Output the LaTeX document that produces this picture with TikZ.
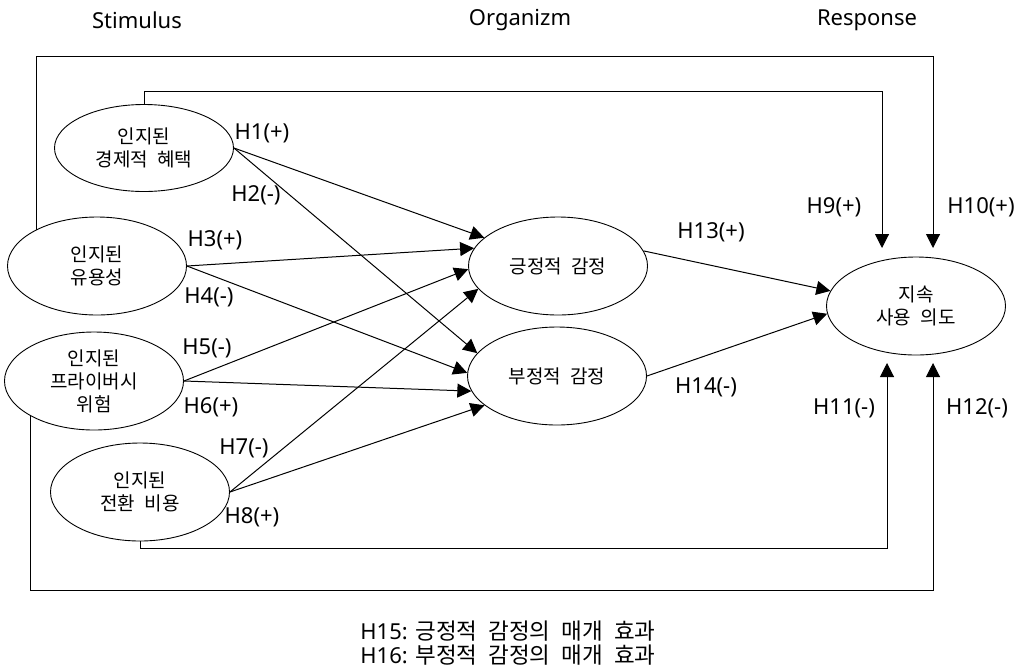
\documentclass[tikz,border=0pt]{standalone}
\usepackage{fontspec}
\setmainfont{Noto Sans}
\newfontfamily\kr[WordSpace=2.2]{Noto Sans CJK KR}
\usetikzlibrary{shapes.geometric,arrows.meta}

\tikzstyle{factor}=[ellipse,draw=black,line width=0.9pt,fill=white,minimum width=179pt,minimum height=98pt,inner sep=0pt,align=center,font=\kr\fontsize{19}{23}\selectfont]
\tikzstyle{hyp}=[font=\fontsize{22}{26}\selectfont]
\tikzstyle{link}=[line width=1pt,-{Triangle[length=14pt,width=14pt]}]

\begin{document}
\begin{tikzpicture}[x=1pt,y=-1pt]
\useasboundingbox (0,0) rectangle (1024,670);
\node(stim)[hyp] at (137,20){Stimulus};
\node(org)[hyp] at (520,20){Organizm};
\node(resp)[hyp] at (867,20){Response};
\node(benefit)[factor,minimum height=87pt] at (144,148){인지된\\경제적 혜택};
\node(useful)[factor] at (97,266){인지된\\유용성};
\node(privacy)[factor] at (94,381){인지된\\프라이버시\\위험};
\node(switch)[factor] at (140,492){인지된\\전환 비용};
\node(positive)[factor] at (558,266){긍정적 감정};
\node(negative)[factor] at (557,376){부정적 감정};
\node(intent)[factor] at (916,306){지속\\사용 의도};
\coordinate(h9end) at (882,248);
\coordinate(h10end) at (933,248);
\coordinate(h11end) at (887,363);
\coordinate(h12end) at (933,363);
\draw[link](benefit.east)--(positive.159);
\draw[link](benefit.east)--(negative.164);
\draw[link](useful.east)--(positive.168);
\draw[link](useful.east)--(negative.178);
\draw[link](privacy.east)--(positive.182);
\draw[link](privacy.east)--(negative.190);
\draw[link](switch.east)--(positive.196);
\draw[link](switch.east)--(negative.202);
\draw[link](positive.10)--(intent.170);
\draw[link](negative.east)--(intent.185);
\draw[link](benefit.north)--++(0,-13)-|(h9end);
\draw[link](useful.149)--++(0,-173)-|(h10end);
\draw[link](switch.south)--++(0,7)-|(h11end);
\draw[link](privacy.209)--++(0,174)-|(h12end);
\node(h1)[hyp] at (262,133){H1(+)};
\node(h2)[hyp] at (256,195){H2(-)};
\node(h3)[hyp] at (215,240){H3(+)};
\node(h4)[hyp] at (209,297){H4(-)};
\node(h5)[hyp] at (207,348){H5(-)};
\node(h6)[hyp] at (211,407){H6(+)};
\node(h7)[hyp] at (244,448){H7(-)};
\node(h8)[hyp] at (252,517){H8(+)};
\node(h9)[hyp] at (834,207){H9(+)};
\node(h10)[hyp] at (981,207){H10(+)};
\node(h11)[hyp] at (844,408){H11(-)};
\node(h12)[hyp] at (977,408){H12(-)};
\node(h13)[hyp] at (711,232){H13(+)};
\node(h14)[hyp] at (706,387){H14(-)};
\node(note)[align=left,font=\fontsize{22}{24}\selectfont] at (508,643){H15: {\kr\fontsize{22.5}{24}\selectfont 긍정적 감정의 매개 효과}\\H16: {\kr\fontsize{22.5}{24}\selectfont 부정적 감정의 매개 효과}};
\end{tikzpicture}
\end{document}
